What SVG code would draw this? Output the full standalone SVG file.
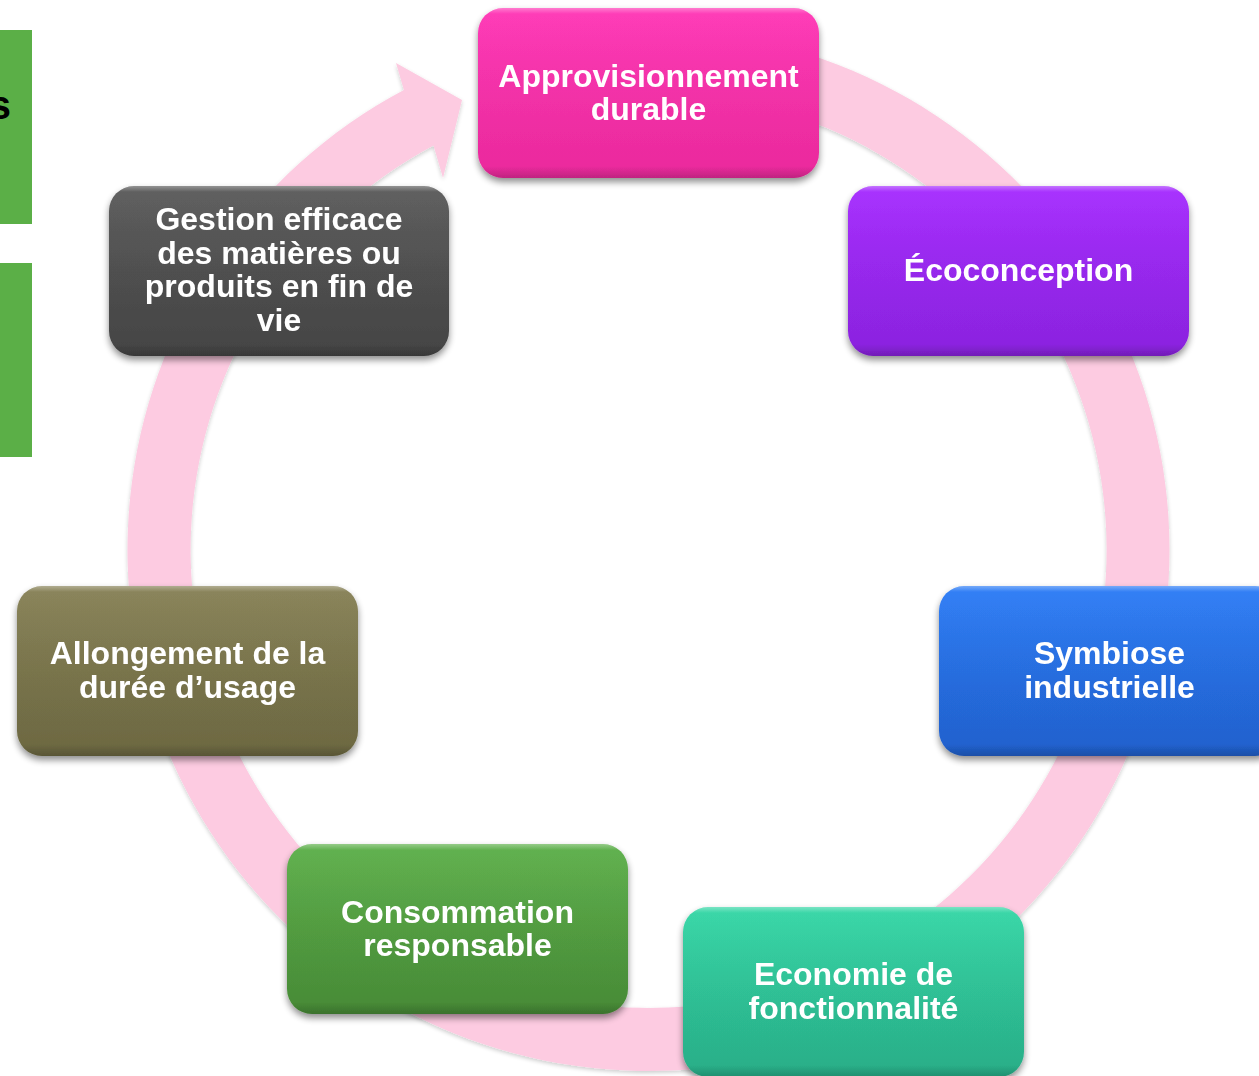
<svg xmlns="http://www.w3.org/2000/svg" width="1259" height="1076" viewBox="0 0 1259 1076">
  <defs>
    <filter id="shadow" x="-10%" y="-10%" width="120%" height="130%">
      <feGaussianBlur in="SourceAlpha" stdDeviation="3.5"/>
      <feOffset dx="0" dy="4" result="b"/>
      <feComponentTransfer><feFuncA type="linear" slope="0.45"/></feComponentTransfer>
      <feMerge><feMergeNode/><feMergeNode in="SourceGraphic"/></feMerge>
    </filter>
    <filter id="ringShadow" x="-5%" y="-5%" width="110%" height="110%">
      <feGaussianBlur in="SourceAlpha" stdDeviation="2"/>
      <feOffset dx="0" dy="2" result="b"/>
      <feComponentTransfer><feFuncA type="linear" slope="0.2"/></feComponentTransfer>
      <feMerge><feMergeNode/><feMergeNode in="SourceGraphic"/></feMerge>
    </filter>
    <linearGradient id="gPink" x1="0" y1="0" x2="0" y2="1"><stop offset="0" stop-color="#FF35B5"/><stop offset="1" stop-color="#EA2A9C"/></linearGradient>
    <linearGradient id="gPurple" x1="0" y1="0" x2="0" y2="1"><stop offset="0" stop-color="#A52AFF"/><stop offset="1" stop-color="#8A23DE"/></linearGradient>
    <linearGradient id="gBlue" x1="0" y1="0" x2="0" y2="1"><stop offset="0" stop-color="#2B7BF6"/><stop offset="1" stop-color="#2160CC"/></linearGradient>
    <linearGradient id="gTeal" x1="0" y1="0" x2="0" y2="1"><stop offset="0" stop-color="#33D6A5"/><stop offset="1" stop-color="#29AD87"/></linearGradient>
    <linearGradient id="gGreen" x1="0" y1="0" x2="0" y2="1"><stop offset="0" stop-color="#5CAF49"/><stop offset="1" stop-color="#478A36"/></linearGradient>
    <linearGradient id="gOlive" x1="0" y1="0" x2="0" y2="1"><stop offset="0" stop-color="#868055"/><stop offset="1" stop-color="#6C6841"/></linearGradient>
    <linearGradient id="gGray" x1="0" y1="0" x2="0" y2="1"><stop offset="0" stop-color="#5A5A5A"/><stop offset="1" stop-color="#444444"/></linearGradient>
    <linearGradient id="gShine" x1="0" y1="0" x2="0" y2="1">
      <stop offset="0" stop-color="#FFFFFF" stop-opacity="0.35"/>
      <stop offset="0.035" stop-color="#FFFFFF" stop-opacity="0.04"/>
      <stop offset="0.93" stop-color="#000000" stop-opacity="0"/>
      <stop offset="1" stop-color="#000000" stop-opacity="0.18"/>
    </linearGradient>
  </defs>
  <style>
    .node-label { font-family: "Liberation Sans", Arial, sans-serif; font-weight: bold; font-size: 32px; fill: #FFFFFF; text-anchor: middle; }
    .shine { fill: url(#gShine); }
    .ring { fill: #FDCBE1; }
    .side { fill: #5BAF47; }
  </style>

  <rect width="1259" height="1076" fill="#FFFFFF"/>

  <g id="side-panels">
    <rect class="side" x="0" y="30" width="32" height="194"/>
    <rect class="side" x="0" y="263" width="32" height="194"/>
    <text x="11" y="119" font-family="Liberation Sans, Arial, sans-serif" font-weight="bold" font-size="40" fill="#000000" text-anchor="end">s</text>
  </g>

  <g id="connectors">
    <path class="ring" filter="url(#ringShadow)" d="M 603.1 31 A 521 521 0 1 1 403.9 90 L 396 63 L 462 100 L 443 178 L 433.5 145.6 A 458 458 0 1 0 608.6 93.7 Z"/>
  </g>

  <g id="node-approvisionnement" filter="url(#shadow)">
    <rect x="478" y="8" width="341" height="170" rx="25" fill="url(#gPink)"/>
    <rect x="478" y="8" width="341" height="170" rx="25" class="shine"/>
    <text class="node-label" x="648.5" y="87">Approvisionnement</text>
    <text class="node-label" x="648.5" y="120">durable</text>
  </g>

  <g id="node-ecoconception" filter="url(#shadow)">
    <rect x="848" y="186" width="341" height="170" rx="25" fill="url(#gPurple)"/>
    <rect x="848" y="186" width="341" height="170" rx="25" class="shine"/>
    <text class="node-label" x="1018.5" y="281">Écoconception</text>
  </g>

  <g id="node-symbiose" filter="url(#shadow)">
    <rect x="939" y="586" width="341" height="170" rx="25" fill="url(#gBlue)"/>
    <rect x="939" y="586" width="341" height="170" rx="25" class="shine"/>
    <text class="node-label" x="1109.5" y="664">Symbiose</text>
    <text class="node-label" x="1109.5" y="698">industrielle</text>
  </g>

  <g id="node-economie" filter="url(#shadow)">
    <rect x="683" y="907" width="341" height="170" rx="25" fill="url(#gTeal)"/>
    <rect x="683" y="907" width="341" height="170" rx="25" class="shine"/>
    <text class="node-label" x="853.5" y="985">Economie de</text>
    <text class="node-label" x="853.5" y="1019">fonctionnalité</text>
  </g>

  <g id="node-consommation" filter="url(#shadow)">
    <rect x="287" y="844" width="341" height="170" rx="25" fill="url(#gGreen)"/>
    <rect x="287" y="844" width="341" height="170" rx="25" class="shine"/>
    <text class="node-label" x="457.5" y="923">Consommation</text>
    <text class="node-label" x="457.5" y="956">responsable</text>
  </g>

  <g id="node-allongement" filter="url(#shadow)">
    <rect x="17" y="586" width="341" height="170" rx="25" fill="url(#gOlive)"/>
    <rect x="17" y="586" width="341" height="170" rx="25" class="shine"/>
    <text class="node-label" x="187.5" y="664">Allongement de la</text>
    <text class="node-label" x="187.5" y="698">durée d’usage</text>
  </g>

  <g id="node-gestion" filter="url(#shadow)">
    <rect x="109" y="186" width="340" height="170" rx="25" fill="url(#gGray)"/>
    <rect x="109" y="186" width="340" height="170" rx="25" class="shine"/>
    <text class="node-label" x="279" y="230">Gestion efficace</text>
    <text class="node-label" x="279" y="264">des matières ou</text>
    <text class="node-label" x="279" y="297">produits en fin de</text>
    <text class="node-label" x="279" y="331">vie</text>
  </g>
</svg>
